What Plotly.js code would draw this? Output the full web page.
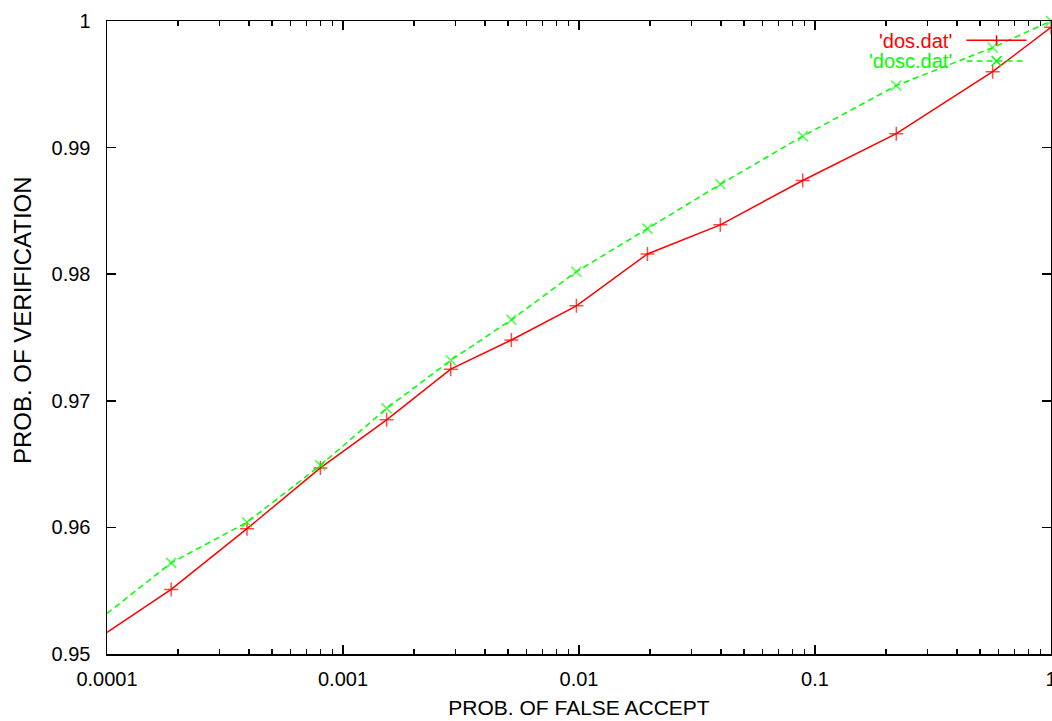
<!DOCTYPE html>
<html>
<head>
<meta charset="utf-8">
<script src="https://cdn.plot.ly/plotly-3.0.1.min.js"></script>
<style>html,body{margin:0;padding:0;background:#fff;}#plot{width:1052px;height:721px;}</style>
</head>
<body>
<div id="plot"></div>
<script>
// Probability of false accept (x, log scale)
const falseAccept = [0.0001, 0.000187, 0.000392, 0.000802, 0.00153, 0.00286, 0.00517, 0.00975, 0.0195, 0.0397, 0.0887, 0.221, 0.566, 1.0];
// 'dos.dat'
const dosVerif = [0.9517, 0.9551, 0.9599, 0.9647, 0.9685, 0.9725, 0.9748, 0.9775, 0.9816, 0.9839, 0.9874, 0.9911, 0.9960, 0.9995];
// 'dosc.dat'
const doscVerif = [0.9532, 0.9572, 0.9604, 0.9649, 0.9694, 0.9732, 0.9764, 0.9802, 0.9836, 0.9871, 0.9909, 0.9949, 0.9979, 1.0];
const seriesNames = ["'dos.dat'", "'dosc.dat'"];
const yTicks = [0.95, 0.96, 0.97, 0.98, 0.99, 1];
const yTickText = ["0.95", "0.96", "0.97", "0.98", "0.99", "1"];
const xTicks = [0.0001, 0.001, 0.01, 0.1, 1];
const xTickText = ["0.0001", "0.001", "0.01", "0.1", "1"];
const minorMult = [2, 3, 4, 5, 6, 7, 8, 9];
const xMinorTicks = [];
xTicks.slice(0, -1).forEach(d => minorMult.forEach(m => xMinorTicks.push(d * m)));

const RED = '#ff0000', GREEN = '#00ff00';
const FAM = 'Liberation Sans, Arial, Helvetica, sans-serif';
const FONT = {family: FAM, size: 20, color: '#000'};
const sizes = falseAccept.map((v, i) => i === 0 ? 0 : 10);

const traces = [
  {x: falseAccept, y: dosVerif, name: seriesNames[0], type: 'scatter', mode: 'lines+markers',
   line: {color: RED, width: 1.5},
   marker: {symbol: 'cross-thin', size: sizes, color: RED, line: {color: RED, width: 1.5}},
   cliponaxis: false},
  {x: falseAccept, y: doscVerif, name: seriesNames[1], type: 'scatter', mode: 'lines+markers',
   line: {color: GREEN, width: 1.5, dash: '6px,4px'},
   marker: {symbol: 'x-thin', size: sizes, color: GREEN, line: {color: GREEN, width: 1.5}},
   cliponaxis: false}
];

// legend geometry in paper coords (gnuplot style: text left, sample right)
const txtX = 0.8957, l0 = 0.9105, l1 = 0.974, mk = 0.9423;
const yR = 0.9695, yG = 0.9369, dx = 0.0053, dy = 0.0079;

const layout = {
  width: 1052, height: 721,
  margin: {l: 107, r: 1, t: 21, b: 67, pad: 0},
  paper_bgcolor: '#fff', plot_bgcolor: '#fff',
  showlegend: false,
  font: FONT,
  xaxis: {
    type: 'log', range: [-4, 0],
    tickmode: 'array', tickvals: xTicks, ticktext: xTickText,
    ticks: 'inside', ticklen: 9, tickwidth: 1.5, tickcolor: '#000',
    minor: {tickmode: 'array', tickvals: xMinorTicks, ticks: 'inside', ticklen: 5, tickwidth: 1.2, tickcolor: '#000', showgrid: false},
    showline: true, linecolor: '#000', linewidth: 1.5, mirror: 'ticks',
    showgrid: false, zeroline: false,
    tickfont: {family: FAM, size: 20, color: '#000'}, ticklabelstandoff: 6, ticklabeloverflow: 'allow',
    title: {text: 'PROB. OF FALSE ACCEPT', font: {family: FAM, size: 21, color: '#000'}, standoff: 12}
  },
  yaxis: {
    range: [0.95, 1], tickmode: 'array', tickvals: yTicks, ticktext: yTickText,
    ticks: 'inside', ticklen: 9, tickwidth: 1.5, tickcolor: '#000',
    showline: true, linecolor: '#000', linewidth: 1.5, mirror: 'ticks',
    showgrid: false, zeroline: false,
    tickfont: {family: FAM, size: 20, color: '#000'}, ticklabelstandoff: 11
  },
  annotations: [
    {xref: 'paper', yref: 'paper', x: 0, y: 0.5276, xshift: -85, xanchor: 'center', yanchor: 'middle', textangle: -90,
     text: 'PROB. OF VERIFICATION', showarrow: false, font: {family: FAM, size: 24, color: '#000'}},
    {xref: 'paper', yref: 'paper', x: txtX, y: yR, xanchor: 'right', yanchor: 'middle', height: 19, borderpad: 0, text: seriesNames[0], showarrow: false, font: {family: FAM, size: 20, color: RED}},
    {xref: 'paper', yref: 'paper', x: txtX, y: yG, xanchor: 'right', yanchor: 'middle', height: 19, borderpad: 0, text: seriesNames[1], showarrow: false, font: {family: FAM, size: 20, color: GREEN}}
  ],
  shapes: [
    {type: 'line', xref: 'paper', yref: 'paper', x0: l0, x1: l1, y0: yR, y1: yR, line: {color: RED, width: 1.5}},
    {type: 'line', xref: 'paper', yref: 'paper', x0: mk, x1: mk, y0: yR - dy, y1: yR + dy, line: {color: RED, width: 1.5}},
    {type: 'line', xref: 'paper', yref: 'paper', x0: l0, x1: l1, y0: yG, y1: yG, line: {color: GREEN, width: 1.5, dash: '6px,4px'}},
    {type: 'line', xref: 'paper', yref: 'paper', x0: mk - dx, x1: mk + dx, y0: yG - dy, y1: yG + dy, line: {color: GREEN, width: 1.5}},
    {type: 'line', xref: 'paper', yref: 'paper', x0: mk - dx, x1: mk + dx, y0: yG + dy, y1: yG - dy, line: {color: GREEN, width: 1.5}}
  ]
};

Plotly.newPlot('plot', traces, layout, {displayModeBar: false, staticPlot: true});
</script>
</body>
</html>
